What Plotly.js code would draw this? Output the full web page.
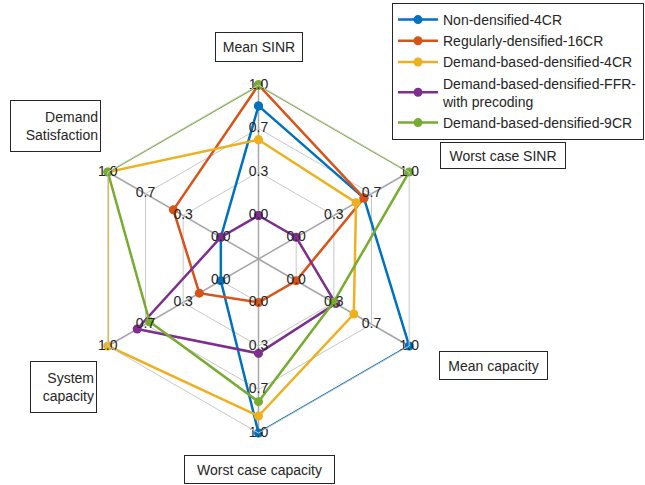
<!DOCTYPE html>
<html>
<head>
<meta charset="utf-8">
<script src="https://cdn.plot.ly/plotly-3.0.1.min.js"></script>
<style>html,body{margin:0;padding:0;background:#fff;}#chart{width:645px;height:485px;}</style>
</head>
<body>
<div id="chart"></div>
<script>
// Axes (clockwise from top)
const categories = ['Mean SINR', 'Worst case SINR', 'Mean capacity', 'Worst case capacity', 'System capacity', 'Demand Satisfaction'];
const axisLabels = ['Mean SINR', 'Worst case SINR', 'Mean capacity', 'Worst case capacity', 'System<br>capacity', 'Demand<br>Satisfaction'];

// Series values (normalised 0..1)
const nonDensified4CR = [0.84, 0.60, 1.00, 1.00, 0.00, 0.00];
const regularlyDensified16CR = [1.00, 0.60, 0.00, 0.00, 0.19, 0.42];
const demandBased4CR = [0.58, 0.53, 0.51, 0.87, 1.00, 1.00];
const demandBasedFFR = [0.00, 0.00, 0.35, 0.39, 0.74, 0.00];
const demandBased9CR = [1.00, 1.00, 0.33, 0.76, 0.63, 1.00];

const seriesNames = ['Non-densified-4CR', 'Regularly-densified-16CR', 'Demand-based-densified-4CR', 'Demand-based-densified-FFR-<br>with precoding', 'Demand-based-densified-9CR'];
const seriesColors = ['#0072BD', '#D95319', '#EDB120', '#7E2F8E', '#77AC30'];

// Radial ticks
const tickVals = [0, 1/3, 2/3, 1];
const tickText = ['0.0', '0.3', '0.7', '1.0'];

// Spider-plot axis offset: value 0 sits on the first ring, not the centre
const axisOffset = 1/3;
const toR = v => v + axisOffset;

const allSeries = [nonDensified4CR, regularlyDensified16CR, demandBased4CR, demandBasedFFR, demandBased9CR];

const traces = allSeries.map((vals, i) => ({
  type: 'scatterpolar',
  r: vals.concat([vals[0]]).map(toR),
  theta: categories.concat([categories[0]]),
  mode: 'lines+markers',
  name: seriesNames[i],
  line: {color: seriesColors[i], width: 2.5},
  marker: {color: seriesColors[i], size: 9},
  cliponaxis: false
}));

// Tick labels on every spoke
const tr = [], tt = [], tx = [];
categories.forEach(c => {
  tickVals.forEach((v, k) => { tr.push(toR(v)); tt.push(c); tx.push(tickText[k]); });
});
traces.push({
  type: 'scatterpolar', r: tr, theta: tt, mode: 'text', text: tx,
  textposition: 'middle center', showlegend: false, hoverinfo: 'skip',
  textfont: {family: 'Liberation Sans, Arial, sans-serif', size: 14, color: '#262626'},
  cliponaxis: false
});

const W = 645, H = 485;
function ann(text, cx, cy, w, h, align) {
  return {
    text: text, xref: 'paper', yref: 'paper',
    x: cx / W, y: 1 - cy / H, xanchor: 'center', yanchor: 'middle',
    showarrow: false, align: align || 'center',
    width: w - 8, height: h - 4, bordercolor: '#262626', borderwidth: 1, borderpad: 2,
    bgcolor: '#ffffff',
    font: {family: 'Liberation Sans, Arial, sans-serif', size: 14, color: '#262626'}
  };
}

const annotations = [
  ann(axisLabels[0], 259, 47, 90, 28),
  ann(axisLabels[1], 503, 156, 128, 25),
  ann(axisLabels[2], 493, 365, 111, 27),
  ann(axisLabels[3], 259, 469, 153, 27),
  ann(axisLabels[4], 63, 387, 69, 50, 'right'),
  ann(axisLabels[5], 55, 126, 93, 50, 'right')
];

const layout = {
  width: W, height: H,
  margin: {l: 0, r: 0, t: 0, b: 0},
  paper_bgcolor: '#ffffff',
  font: {family: 'Liberation Sans, Arial, sans-serif', size: 14, color: '#262626'},
  polar: {
    domain: {x: [84.5 / W, 432.5 / W], y: [(485 - 433) / H, (485 - 85) / H]},
    bgcolor: 'rgba(0,0,0,0)',
    gridshape: 'linear',
    radialaxis: {
      range: [0, 1 + axisOffset], tickvals: tickVals.map(toR), showticklabels: false, ticks: '',
      showline: false, gridcolor: '#c8c8c8', gridwidth: 1
    },
    angularaxis: {
      type: 'category', categoryorder: 'array', categoryarray: categories,
      direction: 'clockwise', rotation: 90,
      showticklabels: false, ticks: '',
      showline: true, linecolor: '#c8c8c8', linewidth: 1,
      gridcolor: '#a6a6a6', gridwidth: 1.5
    }
  },
  legend: {
    x: 392 / W, y: 1 - 3 / H, xanchor: 'left', yanchor: 'top',
    bordercolor: '#262626', borderwidth: 1, bgcolor: '#ffffff',
    font: {family: 'Liberation Sans, Arial, sans-serif', size: 14, color: '#262626'},
    tracegroupgap: 0, itemwidth: 40
  },
  showlegend: true,
  annotations: annotations
};

Plotly.newPlot('chart', traces, layout, {displayModeBar: false, staticPlot: true});
</script>
</body>
</html>
